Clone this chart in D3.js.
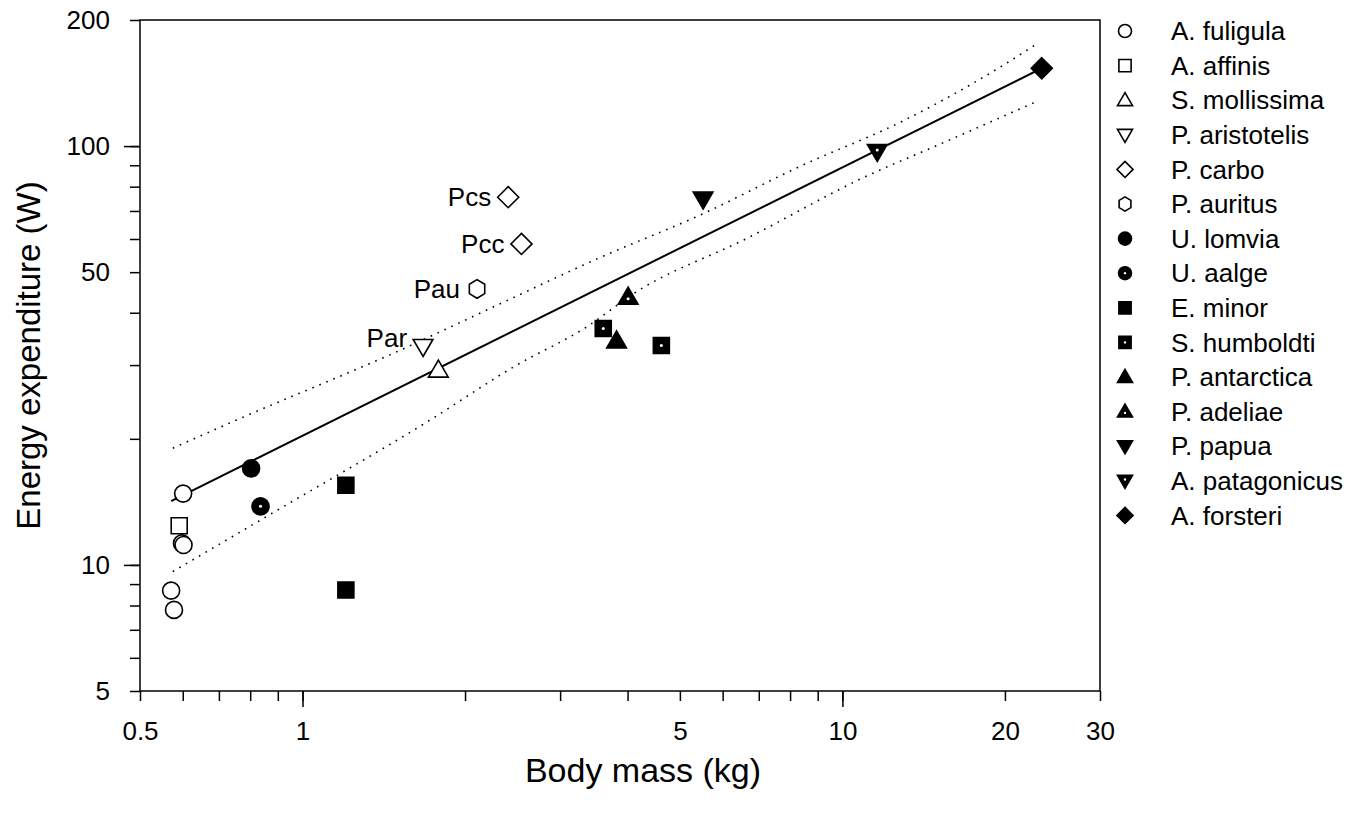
<!DOCTYPE html>
<html>
<head>
<meta charset="utf-8">
<script src="https://cdn.jsdelivr.net/npm/d3@7"></script>
<style>
  body { margin: 0; background: #fff; }
  text { font-family: Arial, "Liberation Sans", sans-serif; fill: #000; }
</style>
</head>
<body>
<svg id="chart" width="1365" height="814"></svg>
<script>
// species shown in the legend, in order
var species = ["A. fuligula", "A. affinis", "S. mollissima", "P. aristotelis", "P. carbo",
  "P. auritus", "U. lomvia", "U. aalge", "E. minor", "S. humboldti", "P. antarctica",
  "P. adeliae", "P. papua", "A. patagonicus", "A. forsteri"];

// measured points (species index, body mass kg, energy expenditure W)
var pointSpecies = [0, 0, 0, 0, 0, 1, 2, 3, 4, 4, 5, 6, 7, 8, 8, 9, 9, 10, 11, 12, 13, 14];
var bodyMass = [0.601, 0.598, 0.602, 0.571, 0.578, 0.591, 1.785, 1.672, 2.404, 2.544, 2.105,
  0.803, 0.836, 1.203, 1.203, 3.606, 4.62, 3.817, 4.01, 5.52, 11.6, 23.4];
var energy = [14.8, 11.26, 11.16, 8.68, 7.81, 12.4, 29.2, 33.2, 75.5, 58.4, 45.6,
  17.0, 13.8, 15.5, 8.71, 36.7, 33.4, 34.3, 43.6, 74.7, 97.0, 153.4];
var pointLabels = ["", "", "", "", "", "", "", "Par", "Pcs", "Pcc", "Pau",
  "", "", "", "", "", "", "", "", "", "", ""];

// fitted regression line and its confidence band
var fitMass = [0.571, 23.4];
var fitEnergy = [14.2, 153.4];
var upperMass = [0.575, 0.756, 1.52, 2.33, 3.57, 5.46, 8.37, 12.8, 19.7, 23.1];
var upperEnergy = [19.0, 22.2, 32.6, 42.1, 54.3, 68.5, 89.6, 114, 155, 176.6];
var lowerMass = [0.575, 0.871, 1.725, 2.46, 3.37, 4.11, 6.67, 10.98, 14.8, 23.1];
var lowerEnergy = [9.64, 13.2, 22.2, 29.7, 37.1, 44.5, 60.3, 84.3, 99.7, 128.4];

// axis ticks
var xTicks = [0.5, 0.6, 0.7, 0.8, 0.9, 1, 2, 3, 4, 5, 6, 7, 8, 9, 10, 20, 30];
var xLabels = [0.5, 1, 5, 10, 20, 30];
var yTicks = [5, 6, 7, 8, 9, 10, 20, 30, 40, 50, 60, 70, 80, 90, 100, 200];
var yLabels = [5, 10, 50, 100, 200];
var decades = [1, 10, 100];

// marker style for each species: shape, filled, white centre dot
var shapeOf = ["circle", "square", "triUp", "triDown", "diamond", "hexagon", "circle", "circle",
  "square", "square", "triUp", "triUp", "triDown", "triDown", "diamond"];
var filledOf = [false, false, false, false, false, false, true, true, true, true, true, true, true, true, true];
var dotOf = [false, false, false, false, false, false, false, true, false, true, false, true, false, true, false];

var svg = d3.select("#chart");
var plotL = 140, plotR = 1100, plotT = 20, plotB = 691;

var x = d3.scaleLog().domain([0.5, 30]).range([plotL, plotR]);
var y = d3.scaleLog().domain([5, 200]).range([plotB, plotT]);

function fmt(v) { return String(v); }

// frame
svg.append("rect")
  .attr("x", plotL).attr("y", plotT)
  .attr("width", plotR - plotL).attr("height", plotB - plotT)
  .style("fill", "none").style("stroke", "#000").style("stroke-width", 1.5);

// y axis
svg.append("g").attr("transform", "translate(" + plotL + ",0)")
  .call(d3.axisLeft(y).tickValues(yTicks).tickSize(10).tickSizeOuter(0).tickPadding(20)
    .tickFormat(function(d) { return yLabels.indexOf(d) >= 0 ? fmt(d) : ""; }));
svg.append("g").attr("transform", "translate(" + plotL + ",0)")
  .call(d3.axisLeft(y).tickValues(decades.filter(function(d) { return d >= 5 && d <= 200; }))
    .tickSize(16).tickSizeOuter(0).tickFormat(""));

// x axis
svg.append("g").attr("transform", "translate(0," + plotB + ")")
  .call(d3.axisBottom(x).tickValues(xTicks).tickSize(10).tickSizeOuter(0).tickPadding(21)
    .tickFormat(function(d) { return xLabels.indexOf(d) >= 0 ? fmt(d) : ""; }));
svg.append("g").attr("transform", "translate(0," + plotB + ")")
  .call(d3.axisBottom(x).tickValues(decades.filter(function(d) { return d >= 0.5 && d <= 30; }))
    .tickSize(16).tickSizeOuter(0).tickFormat(""));

svg.selectAll(".domain").remove();
svg.selectAll(".tick line").style("stroke", "#000").style("stroke-width", 1.5);
svg.selectAll(".tick text").style("font-size", "26px").style("font-family", "Arial, 'Liberation Sans', sans-serif");

// axis titles
svg.append("text")
  .attr("x", 643).attr("y", 782)
  .attr("text-anchor", "middle")
  .style("font-size", "34px")
  .text("Body mass (kg)");
svg.append("text")
  .attr("transform", "translate(40," + ((plotT + plotB) / 2) + ") rotate(-90)")
  .attr("text-anchor", "middle")
  .style("font-size", "33px")
  .text("Energy expenditure (W)");

// confidence band and fit
var line = d3.line()
  .x(function(d) { return x(d[0]); })
  .y(function(d) { return y(d[1]); })
  .curve(d3.curveMonotoneX);

svg.append("path")
  .datum(d3.zip(upperMass, upperEnergy))
  .attr("d", line)
  .style("fill", "none").style("stroke", "#000").style("stroke-width", 1.6)
  .style("stroke-dasharray", "1.6,6").style("stroke-linecap", "butt");
svg.append("path")
  .datum(d3.zip(lowerMass, lowerEnergy))
  .attr("d", line)
  .style("fill", "none").style("stroke", "#000").style("stroke-width", 1.6)
  .style("stroke-dasharray", "1.6,6").style("stroke-linecap", "butt");
svg.append("path")
  .datum(d3.zip(fitMass, fitEnergy))
  .attr("d", line)
  .style("fill", "none").style("stroke", "#000").style("stroke-width", 2);

// marker paths, s = nominal size in px
function markerPath(shape, s) {
  var h = s / 2, p;
  if (shape === "circle") {
    return "M" + h + ",0A" + h + "," + h + " 0 1,1 " + (-h) + ",0A" + h + "," + h + " 0 1,1 " + h + ",0Z";
  }
  if (shape === "square") {
    h = s * 0.47;
    return "M" + (-h) + "," + (-h) + "H" + h + "V" + h + "H" + (-h) + "Z";
  }
  if (shape === "triUp") {
    var w = s * 0.58, t = s * 0.58, b = s * 0.42;
    return "M0," + (-t) + "L" + w + "," + b + "L" + (-w) + "," + b + "Z";
  }
  if (shape === "triDown") {
    var w2 = s * 0.58, t2 = s * 0.58, b2 = s * 0.42;
    return "M0," + t2 + "L" + w2 + "," + (-b2) + "L" + (-w2) + "," + (-b2) + "Z";
  }
  if (shape === "diamond") {
    h = s * 0.62;
    return "M0," + (-h) + "L" + h + ",0L0," + h + "L" + (-h) + ",0Z";
  }
  if (shape === "hexagon") {
    h = s * 0.55;
    p = d3.range(6).map(function(i) {
      var a = Math.PI / 3 * i - Math.PI / 2;
      return [h * Math.cos(a) * 0.95, h * Math.sin(a)];
    });
    return "M" + p.join("L") + "Z";
  }
}

function drawMarker(g, k, s) {
  g.append("path")
    .attr("d", markerPath(shapeOf[k], s))
    .style("fill", filledOf[k] ? "#000" : "#fff")
    .style("stroke", "#000").style("stroke-width", 1.6);
  if (dotOf[k]) {
    var dy = shapeOf[k] === "triUp" ? s * 0.1 : (shapeOf[k] === "triDown" ? -s * 0.1 : 0);
    g.append("circle").attr("cx", 0).attr("cy", dy).attr("r", s * 0.09)
      .style("fill", "#fff");
  }
}

// data points
var pts = svg.append("g");
bodyMass.forEach(function(m, i) {
  var g = pts.append("g").attr("transform", "translate(" + x(m) + "," + y(energy[i]) + ")");
  drawMarker(g, pointSpecies[i], 17);
  if (pointLabels[i]) {
    var dx = pointLabels[i] === "Par" ? -16 : -17;
    var ddy = pointLabels[i] === "Par" ? -9 : 0;
    g.append("text")
      .attr("x", dx).attr("y", ddy).attr("dy", "0.35em")
      .attr("text-anchor", "end")
      .style("font-size", "26px")
      .text(pointLabels[i]);
  }
});

// legend
var legend = svg.append("g");
species.forEach(function(name, k) {
  var ly = 31 + k * 34.6;
  var g = legend.append("g").attr("transform", "translate(1125," + ly + ")");
  drawMarker(g, k, 13);
  legend.append("text")
    .attr("x", 1171).attr("y", ly).attr("dy", "0.35em")
    .style("font-size", "26px")
    .text(name);
});
</script>
</body>
</html>
